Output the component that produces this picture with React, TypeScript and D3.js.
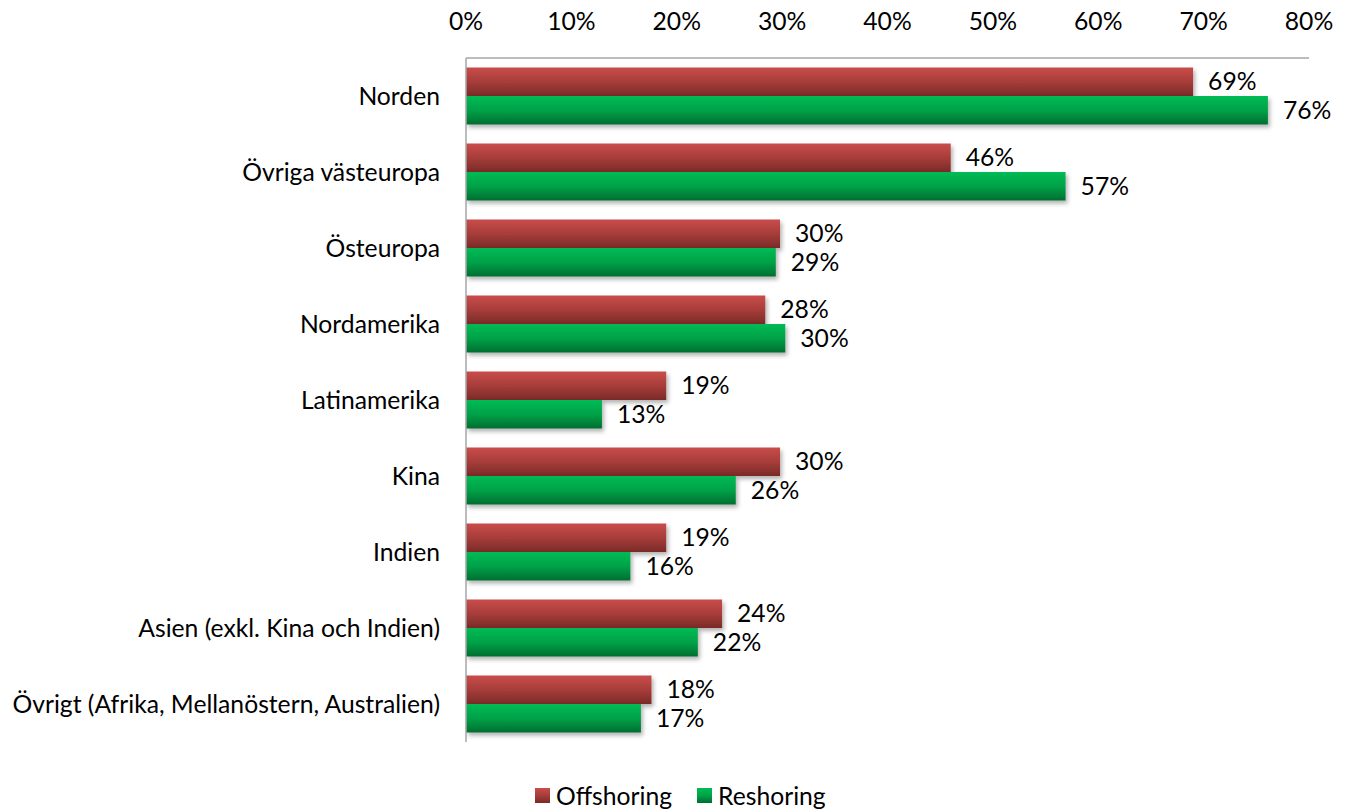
import React from "react";
import * as d3 from "d3";

const categories = [
  "Norden",
  "Övriga västeuropa",
  "Östeuropa",
  "Nordamerika",
  "Latinamerika",
  "Kina",
  "Indien",
  "Asien (exkl. Kina och Indien)",
  "Övrigt (Afrika, Mellanöstern, Australien)",
];
const offshoring = [69, 46, 29.8, 28.4, 19, 29.8, 19, 24.3, 17.6];
const reshoring = [76.1, 56.9, 29.4, 30.3, 12.9, 25.6, 15.6, 22, 16.6];
const ticks = [0, 10, 20, 30, 40, 50, 60, 70, 80];
const seriesNames = ["Offshoring", "Reshoring"];

const W = 1349;
const H = 810;
const FONT = "Lato, 'Open Sans', sans-serif";
const FS = 24.7;

export default function App() {
  const x = d3.scaleLinear().domain([0, 80]).range([466, 1309]);
  const y = d3.scaleBand().domain(categories).range([58, 742]).paddingInner(0.25).paddingOuter(0.125);
  const inner = d3.scaleBand().domain(seriesNames).range([0, y.bandwidth()]);
  const fmt = (v: number) => `${Math.round(v)}%`;
  const series = [
    { name: "Offshoring", values: offshoring, grad: "gRed" },
    { name: "Reshoring", values: reshoring, grad: "gGreen" },
  ];
  return (
    <svg width={W} height={H} style={{ position: "absolute", left: 0, top: 0 }} fontFamily={FONT}>
      <defs>
        <linearGradient id="gRed" x1="0" y1="0" x2="0" y2="1">
          <stop offset="0" stopColor="#c94d4a" />
          <stop offset="0.5" stopColor="#a73d3a" />
          <stop offset="1" stopColor="#7a2a28" />
        </linearGradient>
        <linearGradient id="gGreen" x1="0" y1="0" x2="0" y2="1">
          <stop offset="0" stopColor="#00bb55" />
          <stop offset="0.5" stopColor="#00a248" />
          <stop offset="1" stopColor="#006e30" />
        </linearGradient>
        <filter id="shadow" x="-5%" y="-20%" width="110%" height="160%">
          <feDropShadow dx="2" dy="3" stdDeviation="2" floodColor="#000" floodOpacity="0.3" />
        </filter>
      </defs>
      {ticks.map((t) => (
        <text key={t} x={x(t)} y={30} textAnchor="middle" fontSize={FS} fill="#000">
          {t}%
        </text>
      ))}
      {categories.map((c) => (
        <text key={c} x={440} y={(y(c) as number) + y.bandwidth() / 2} dy="0.35em" textAnchor="end" fontSize={FS} fill="#000">
          {c}
        </text>
      ))}
      {series.map((s) =>
        categories.map((c, i) => {
          const by = (y(c) as number) + (inner(s.name) as number);
          return (
            <g key={s.name + c}>
              <rect x={x(0)} y={by} width={x(s.values[i]) - x(0)} height={inner.bandwidth()} fill={`url(#${s.grad})`} filter="url(#shadow)" />
            </g>
          );
        })
      )}
      {series.map((s) =>
        categories.map((c, i) => {
          const by = (y(c) as number) + (inner(s.name) as number);
          return (
            <text key={"l" + s.name + c} x={x(s.values[i]) + 15} y={by + inner.bandwidth() / 2} dy="0.35em" fontSize={FS} fill="#000">
              {fmt(s.values[i])}
            </text>
          );
        })
      )}
      <line x1={x(0)} x2={x(80)} y1={58} y2={58} stroke="#a6a6a6" strokeWidth={1.5} />
      <line x1={x(0)} x2={x(0)} y1={58} y2={742} stroke="#a6a6a6" strokeWidth={1.5} />
      {series.map((s, i) => {
        const lx = i === 0 ? 535 : 697;
        return (
          <g key={"leg" + s.name}>
            <rect x={lx} y={788} width={15} height={15} fill={`url(#${s.grad})`} />
            <text x={lx + 21} y={796} dy="0.35em" fontSize={FS} fill="#000">
              {s.name}
            </text>
          </g>
        );
      })}
    </svg>
  );
}
